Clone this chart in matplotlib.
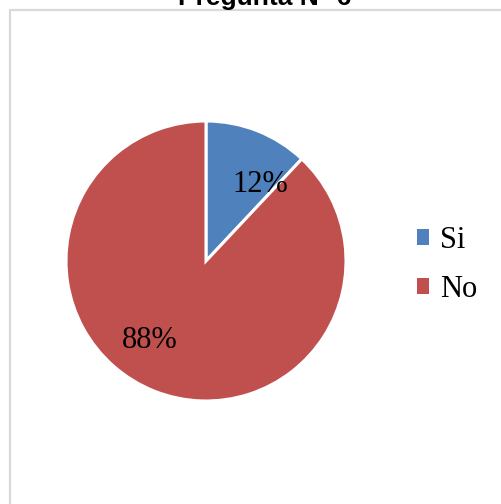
import matplotlib
matplotlib.use("Agg")
import matplotlib.pyplot as plt
from matplotlib.patches import Rectangle, Patch

labels = ["Si", "No"]
values = [12, 88]
colors = ["#4F81BD", "#C0504D"]
title = "Pregunta N° 6"

W, H = 502, 504
fig = plt.figure(figsize=(W / 100, H / 100), dpi=100)
fig.patch.set_facecolor("white")

# chart-area frame (runs off the right and bottom edges)
fig.patches.append(Rectangle((10.5 / W, -0.2), 1.2, 1.2 - 10.5 / H,
                             transform=fig.transFigure, fill=False,
                             edgecolor="#d9d9d9", lw=1.6, zorder=0))

# pie centred at (206, 261) px, radius 140 px
r = 140
cx, cy = 206, H - 261
ax = fig.add_axes([(cx - r) / W, (cy - r) / H, 2 * r / W, 2 * r / H])
wedges, _ = ax.pie(values, colors=colors, startangle=90, counterclock=False,
                   radius=1, wedgeprops=dict(edgecolor="white", linewidth=2.2))
ax.set_xlim(-1, 1)
ax.set_ylim(-1, 1)
ax.set_aspect("equal")
ax.axis("off")

label_pos = [(0.385, 0.55), (-0.40, -0.565)]
for v, (x, y) in zip(values, label_pos):
    ax.text(x, y, f"{v}%", ha="center", va="center", fontsize=22,
            family="Liberation Serif", color="black")

handles = [Patch(facecolor=c, edgecolor="none") for c in colors]
fig.legend(handles, labels, loc="center left", bbox_to_anchor=(417 / W, 1 - 265 / H),
           frameon=False, prop=dict(family="Liberation Serif", size=22),
           handlelength=0.4, handleheight=0.4, handletextpad=0.35, labelspacing=0.65,
           borderpad=0, borderaxespad=0)

fig.text(265 / W, 1 - 5 / H, title, ha="center", va="baseline", fontsize=19,
         fontweight="bold", family="Liberation Sans")

fig.savefig("out.png", dpi=100)
